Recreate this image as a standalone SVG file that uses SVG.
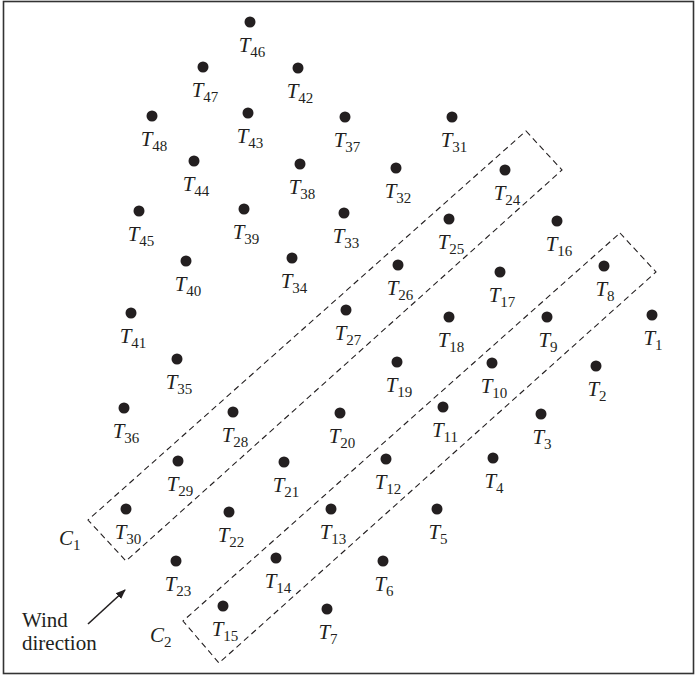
<svg xmlns="http://www.w3.org/2000/svg" width="695" height="677" viewBox="0 0 695 677">
<style>
.d{fill:#231f20}
text{font-family:'Liberation Serif','DejaVu Serif','Times New Roman',serif;fill:#231f20}
.lb{font-size:21px;text-anchor:middle}
.i{font-style:italic}
.s{font-size:15px}
.box{fill:none;stroke:#231f20;stroke-width:1.1;stroke-dasharray:6 4}
.txt{font-size:21px}
</style>
<defs>
<marker id="ah" viewBox="0 0 10 10" refX="9" refY="5" markerWidth="10" markerHeight="10" markerUnits="userSpaceOnUse" orient="auto">
<path d="M0,1 L10,5 L0,9 Z" fill="#231f20"/>
</marker>
</defs>
<rect x="3.5" y="1.5" width="690" height="672" fill="#fff" stroke="#333" stroke-width="1.6"/>
<g id="connectors">
<polygon id="C1box" class="box" points="526,131 562,170 126,561 88,520"/>
<polygon id="C2box" class="box" points="620,233 656,272 219,663 183,621"/>
<line id="wind-arrow" x1="88" y1="624" x2="125" y2="590" stroke="#231f20" stroke-width="1.6" marker-end="url(#ah)"/>
</g>
<g id="labels">
<text class="txt" x="59" y="545"><tspan class="i">C</tspan><tspan class="s" dy="5">1</tspan></text>
<text class="txt" x="150" y="642"><tspan class="i">C</tspan><tspan class="s" dy="5">2</tspan></text>
<text class="txt" x="22" y="627">Wind</text>
<text class="txt" x="22" y="650">direction</text>
</g>
<g id="T1"><circle class="d" cx="652" cy="315" r="5.5"/><text class="lb" x="653" y="345"><tspan class="i">T</tspan><tspan class="s" dy="5">1</tspan></text></g>
<g id="T2"><circle class="d" cx="596" cy="366" r="5.5"/><text class="lb" x="597" y="396"><tspan class="i">T</tspan><tspan class="s" dy="5">2</tspan></text></g>
<g id="T3"><circle class="d" cx="541" cy="414" r="5.5"/><text class="lb" x="542" y="444"><tspan class="i">T</tspan><tspan class="s" dy="5">3</tspan></text></g>
<g id="T4"><circle class="d" cx="493" cy="458" r="5.5"/><text class="lb" x="494" y="488"><tspan class="i">T</tspan><tspan class="s" dy="5">4</tspan></text></g>
<g id="T5"><circle class="d" cx="437" cy="509" r="5.5"/><text class="lb" x="438" y="539"><tspan class="i">T</tspan><tspan class="s" dy="5">5</tspan></text></g>
<g id="T6"><circle class="d" cx="383" cy="561" r="5.5"/><text class="lb" x="384" y="591"><tspan class="i">T</tspan><tspan class="s" dy="5">6</tspan></text></g>
<g id="T7"><circle class="d" cx="327" cy="609" r="5.5"/><text class="lb" x="328" y="639"><tspan class="i">T</tspan><tspan class="s" dy="5">7</tspan></text></g>
<g id="T8"><circle class="d" cx="604" cy="266" r="5.5"/><text class="lb" x="605" y="296"><tspan class="i">T</tspan><tspan class="s" dy="5">8</tspan></text></g>
<g id="T9"><circle class="d" cx="547" cy="317" r="5.5"/><text class="lb" x="548" y="347"><tspan class="i">T</tspan><tspan class="s" dy="5">9</tspan></text></g>
<g id="T10"><circle class="d" cx="492" cy="363" r="5.5"/><text class="lb" x="494" y="393"><tspan class="i">T</tspan><tspan class="s" dy="5">10</tspan></text></g>
<g id="T11"><circle class="d" cx="443" cy="407" r="5.5"/><text class="lb" x="445" y="437"><tspan class="i">T</tspan><tspan class="s" dy="5">11</tspan></text></g>
<g id="T12"><circle class="d" cx="386" cy="459" r="5.5"/><text class="lb" x="388" y="489"><tspan class="i">T</tspan><tspan class="s" dy="5">12</tspan></text></g>
<g id="T13"><circle class="d" cx="331" cy="509" r="5.5"/><text class="lb" x="333" y="539"><tspan class="i">T</tspan><tspan class="s" dy="5">13</tspan></text></g>
<g id="T14"><circle class="d" cx="276" cy="558" r="5.5"/><text class="lb" x="278" y="588"><tspan class="i">T</tspan><tspan class="s" dy="5">14</tspan></text></g>
<g id="T15"><circle class="d" cx="223" cy="606" r="5.5"/><text class="lb" x="225" y="636"><tspan class="i">T</tspan><tspan class="s" dy="5">15</tspan></text></g>
<g id="T16"><circle class="d" cx="557" cy="221" r="5.5"/><text class="lb" x="559" y="251"><tspan class="i">T</tspan><tspan class="s" dy="5">16</tspan></text></g>
<g id="T17"><circle class="d" cx="500" cy="272" r="5.5"/><text class="lb" x="502" y="302"><tspan class="i">T</tspan><tspan class="s" dy="5">17</tspan></text></g>
<g id="T18"><circle class="d" cx="449" cy="317" r="5.5"/><text class="lb" x="451" y="347"><tspan class="i">T</tspan><tspan class="s" dy="5">18</tspan></text></g>
<g id="T19"><circle class="d" cx="397" cy="362" r="5.5"/><text class="lb" x="399" y="392"><tspan class="i">T</tspan><tspan class="s" dy="5">19</tspan></text></g>
<g id="T20"><circle class="d" cx="340" cy="413" r="5.5"/><text class="lb" x="342" y="443"><tspan class="i">T</tspan><tspan class="s" dy="5">20</tspan></text></g>
<g id="T21"><circle class="d" cx="284" cy="462" r="5.5"/><text class="lb" x="286" y="492"><tspan class="i">T</tspan><tspan class="s" dy="5">21</tspan></text></g>
<g id="T22"><circle class="d" cx="229" cy="512" r="5.5"/><text class="lb" x="231" y="542"><tspan class="i">T</tspan><tspan class="s" dy="5">22</tspan></text></g>
<g id="T23"><circle class="d" cx="176" cy="561" r="5.5"/><text class="lb" x="178" y="591"><tspan class="i">T</tspan><tspan class="s" dy="5">23</tspan></text></g>
<g id="T24"><circle class="d" cx="505" cy="170" r="5.5"/><text class="lb" x="507" y="200"><tspan class="i">T</tspan><tspan class="s" dy="5">24</tspan></text></g>
<g id="T25"><circle class="d" cx="449" cy="219" r="5.5"/><text class="lb" x="451" y="249"><tspan class="i">T</tspan><tspan class="s" dy="5">25</tspan></text></g>
<g id="T26"><circle class="d" cx="398" cy="265" r="5.5"/><text class="lb" x="400" y="295"><tspan class="i">T</tspan><tspan class="s" dy="5">26</tspan></text></g>
<g id="T27"><circle class="d" cx="346" cy="310" r="5.5"/><text class="lb" x="348" y="340"><tspan class="i">T</tspan><tspan class="s" dy="5">27</tspan></text></g>
<g id="T28"><circle class="d" cx="233" cy="412" r="5.5"/><text class="lb" x="235" y="442"><tspan class="i">T</tspan><tspan class="s" dy="5">28</tspan></text></g>
<g id="T29"><circle class="d" cx="178" cy="461" r="5.5"/><text class="lb" x="180" y="491"><tspan class="i">T</tspan><tspan class="s" dy="5">29</tspan></text></g>
<g id="T30"><circle class="d" cx="126" cy="509" r="5.5"/><text class="lb" x="128" y="539"><tspan class="i">T</tspan><tspan class="s" dy="5">30</tspan></text></g>
<g id="T31"><circle class="d" cx="452" cy="117" r="5.5"/><text class="lb" x="454" y="147"><tspan class="i">T</tspan><tspan class="s" dy="5">31</tspan></text></g>
<g id="T32"><circle class="d" cx="396" cy="168" r="5.5"/><text class="lb" x="398" y="198"><tspan class="i">T</tspan><tspan class="s" dy="5">32</tspan></text></g>
<g id="T33"><circle class="d" cx="344" cy="213" r="5.5"/><text class="lb" x="346" y="243"><tspan class="i">T</tspan><tspan class="s" dy="5">33</tspan></text></g>
<g id="T34"><circle class="d" cx="292" cy="258" r="5.5"/><text class="lb" x="294" y="288"><tspan class="i">T</tspan><tspan class="s" dy="5">34</tspan></text></g>
<g id="T35"><circle class="d" cx="177" cy="359" r="5.5"/><text class="lb" x="179" y="389"><tspan class="i">T</tspan><tspan class="s" dy="5">35</tspan></text></g>
<g id="T36"><circle class="d" cx="124" cy="408" r="5.5"/><text class="lb" x="126" y="438"><tspan class="i">T</tspan><tspan class="s" dy="5">36</tspan></text></g>
<g id="T37"><circle class="d" cx="345" cy="117" r="5.5"/><text class="lb" x="347" y="147"><tspan class="i">T</tspan><tspan class="s" dy="5">37</tspan></text></g>
<g id="T38"><circle class="d" cx="300" cy="164" r="5.5"/><text class="lb" x="302" y="194"><tspan class="i">T</tspan><tspan class="s" dy="5">38</tspan></text></g>
<g id="T39"><circle class="d" cx="244" cy="209" r="5.5"/><text class="lb" x="246" y="239"><tspan class="i">T</tspan><tspan class="s" dy="5">39</tspan></text></g>
<g id="T40"><circle class="d" cx="186" cy="261" r="5.5"/><text class="lb" x="188" y="291"><tspan class="i">T</tspan><tspan class="s" dy="5">40</tspan></text></g>
<g id="T41"><circle class="d" cx="131" cy="313" r="5.5"/><text class="lb" x="133" y="343"><tspan class="i">T</tspan><tspan class="s" dy="5">41</tspan></text></g>
<g id="T42"><circle class="d" cx="298" cy="68" r="5.5"/><text class="lb" x="300" y="98"><tspan class="i">T</tspan><tspan class="s" dy="5">42</tspan></text></g>
<g id="T43"><circle class="d" cx="248" cy="113" r="5.5"/><text class="lb" x="250" y="143"><tspan class="i">T</tspan><tspan class="s" dy="5">43</tspan></text></g>
<g id="T44"><circle class="d" cx="194" cy="161" r="5.5"/><text class="lb" x="196" y="191"><tspan class="i">T</tspan><tspan class="s" dy="5">44</tspan></text></g>
<g id="T45"><circle class="d" cx="139" cy="211" r="5.5"/><text class="lb" x="141" y="241"><tspan class="i">T</tspan><tspan class="s" dy="5">45</tspan></text></g>
<g id="T46"><circle class="d" cx="250" cy="22" r="5.5"/><text class="lb" x="252" y="52"><tspan class="i">T</tspan><tspan class="s" dy="5">46</tspan></text></g>
<g id="T47"><circle class="d" cx="203" cy="67" r="5.5"/><text class="lb" x="205" y="97"><tspan class="i">T</tspan><tspan class="s" dy="5">47</tspan></text></g>
<g id="T48"><circle class="d" cx="152" cy="116" r="5.5"/><text class="lb" x="154" y="146"><tspan class="i">T</tspan><tspan class="s" dy="5">48</tspan></text></g>
</svg>
